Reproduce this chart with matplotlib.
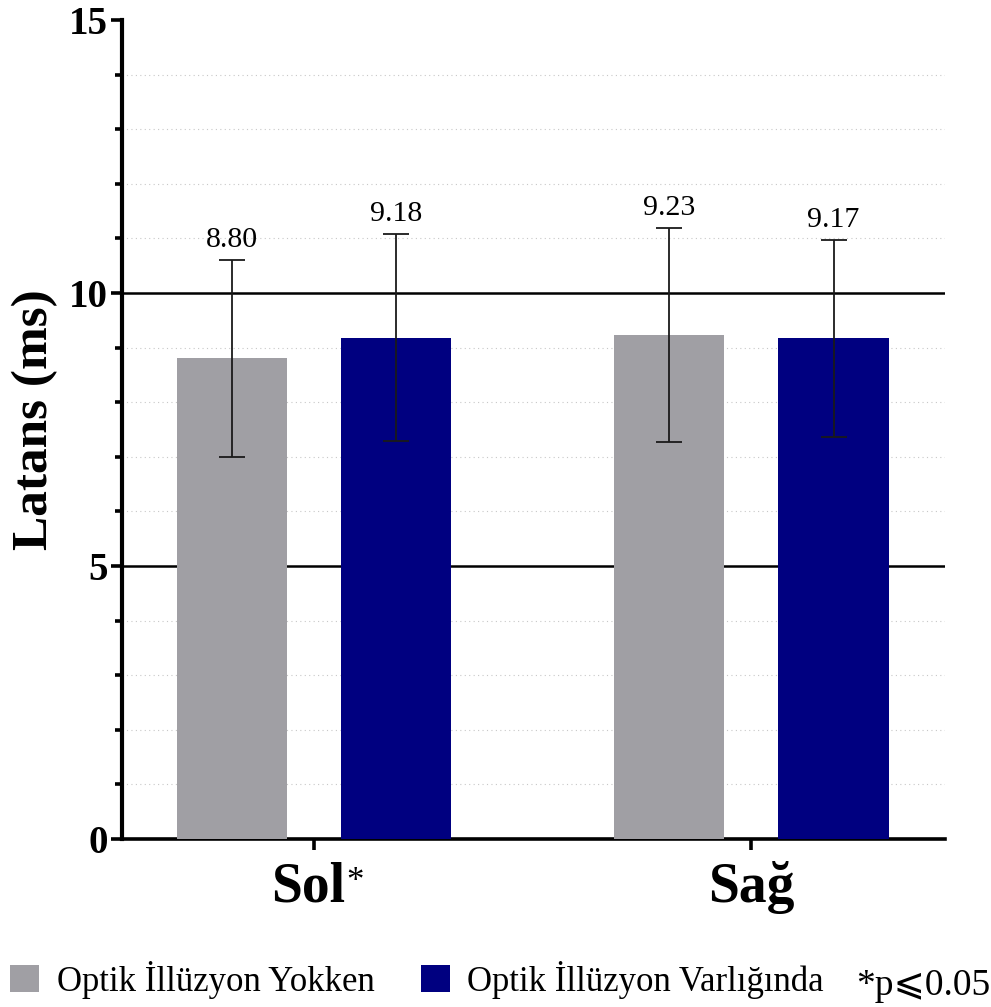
import matplotlib
matplotlib.use("Agg")
import matplotlib.pyplot as plt
import numpy as np
from matplotlib.patches import Patch
from matplotlib.ticker import MultipleLocator
from matplotlib.transforms import ScaledTranslation

plt.rcParams["font.family"] = ["Liberation Serif", "DejaVu Serif", "DejaVu Sans"]

groups = ["Sol", "Sağ"]
series_names = ["Optik İllüzyon Yokken", "Optik İllüzyon Varlığında"]
yokken = [8.80, 9.23]
yokken_sd = [1.80, 1.96]
varliginda = [9.18, 9.17]
varliginda_sd = [1.90, 1.80]
value_labels_yokken = ["8.80", "9.23"]
value_labels_varliginda = ["9.18", "9.17"]

COLOR_GRAY = "#A09FA4"
COLOR_NAVY = "#000080"

fig = plt.figure(figsize=(9.91, 10.07), dpi=100)
ax = fig.add_axes([0.123, 0.1668, 0.831, 0.8134])

x = np.arange(len(groups))
off = 0.188
w = 0.252

for xs, vals, sds, labels, color in [
    (x - off, yokken, yokken_sd, value_labels_yokken, COLOR_GRAY),
    (x + off, varliginda, varliginda_sd, value_labels_varliginda, COLOR_NAVY),
]:
    ax.bar(xs, vals, w, color=color, zorder=3)
    ax.errorbar(xs, vals, yerr=sds, fmt="none", ecolor="#1a1a1a", elinewidth=1.3,
                capsize=9.7, capthick=1.3, zorder=4)
    for xi, v, s, lab in zip(xs, vals, sds, labels):
        ax.annotate(lab, (xi, v + s), xytext=(0, 5), textcoords="offset points",
                    ha="center", va="bottom", fontsize=21.5, zorder=5)

ax.set_ylim(0, 15)
ax.set_xlim(-0.44, 1.444)
ax.yaxis.set_major_locator(MultipleLocator(5))
ax.yaxis.set_minor_locator(MultipleLocator(1))
ax.grid(True, which="minor", axis="y", color="#c8c8c8", linestyle=(0, (1, 3)), linewidth=0.8, zorder=0)
for yv in (5, 10):
    ax.axhline(yv, color="black", linewidth=1.8, zorder=1)

for side in ("top", "right"):
    ax.spines[side].set_visible(False)
ax.spines["left"].set_linewidth(3)
ax.spines["bottom"].set_linewidth(2.6)

ax.tick_params(axis="y", which="major", length=8, width=2.6, labelsize=28, pad=2)
ax.tick_params(axis="y", which="minor", length=5, width=2.6)
ax.tick_params(axis="x", which="major", length=8, width=2.6, labelsize=40, pad=8)
for lab in ax.get_yticklabels():
    lab.set_fontweight("bold")

ax.set_xticks(x)
ax.set_xticklabels(groups, fontweight="bold")
# "Sol*" is centred as a whole under its tick: nudge "Sol" left, star follows it
sol_label = ax.get_xticklabels()[0]
sol_label.set_transform(sol_label.get_transform() + ScaledTranslation(-6 / 100, 0, fig.dpi_scale_trans))
ax.text(0.0735, -0.033, "*", transform=ax.get_xaxis_transform(), fontsize=25,
        ha="left", va="top")

ax.set_ylabel("Latans (ms)", fontsize=37, fontweight="bold")
ax.yaxis.set_label_coords(-0.077, 0.512)

handles = [Patch(facecolor=COLOR_GRAY), Patch(facecolor=COLOR_NAVY)]
fig.legend(handles, series_names, loc="center left", bbox_to_anchor=(0.0, 0.027),
           ncol=2, frameon=False, fontsize=25, handlelength=0.83, handleheight=0.8,
           handletextpad=0.5, columnspacing=1.35, borderaxespad=0.0, borderpad=0.3)
fig.text(0.999, 0.012, "*p⩽0.05", fontsize=27, ha="right", va="baseline")

fig.savefig("out.png", dpi=100)
